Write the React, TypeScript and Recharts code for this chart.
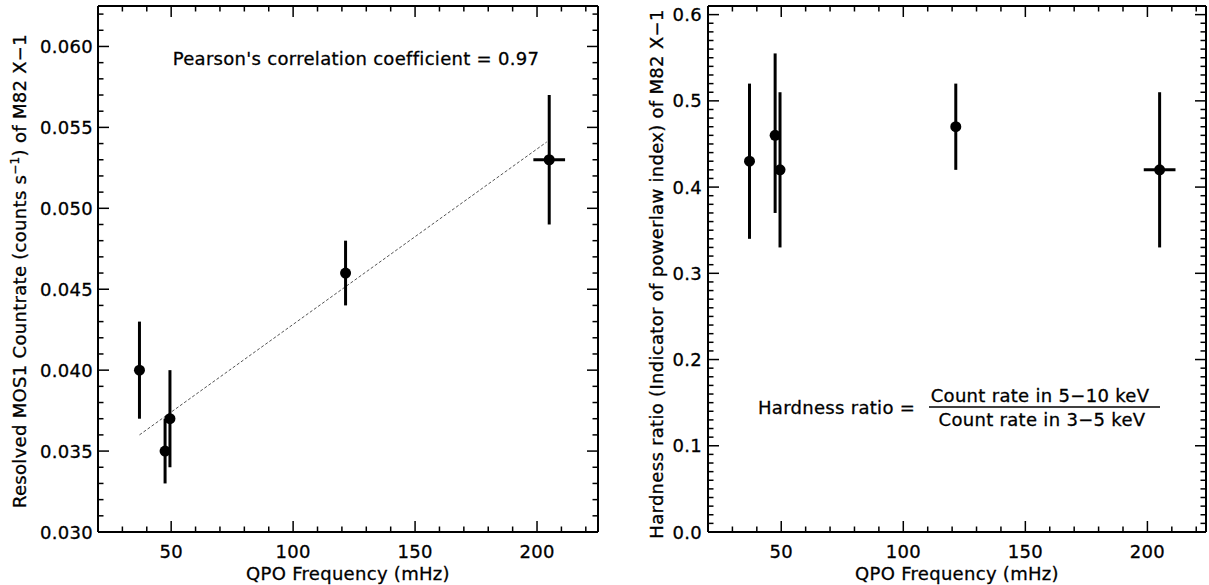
import React from 'react';
import { ScatterChart, Scatter, XAxis, YAxis, ErrorBar, ReferenceLine } from 'recharts';

// QPO frequencies (mHz) shared by both panels; last point has a frequency range
const qpoFreq = [37, 47.5, 49.5, 121.5, 205];
const qpoFreqLow = [37, 47.5, 49.5, 121.5, 198.5];
const qpoFreqHigh = [37, 47.5, 49.5, 121.5, 211.5];

// left panel: resolved MOS1 count rate
const countRate = [0.04, 0.035, 0.037, 0.046, 0.053];
const countRateLow = [0.037, 0.033, 0.034, 0.044, 0.049];
const countRateHigh = [0.043, 0.037, 0.04, 0.048, 0.057];

// linear fit drawn on the left panel
const fitFreq = [37, 204];
const fitRate = [0.036, 0.0541];

// right panel: hardness ratio
const hardness = [0.43, 0.46, 0.42, 0.47, 0.42];
const hardnessLow = [0.34, 0.37, 0.33, 0.42, 0.33];
const hardnessHigh = [0.52, 0.555, 0.51, 0.52, 0.51];

const freqTicks = [50, 100, 150, 200];
const countRateTicks = [0.03, 0.035, 0.04, 0.045, 0.05, 0.055, 0.06];
const hardnessTicks = [0.0, 0.1, 0.2, 0.3, 0.4, 0.5, 0.6];

const FONT = '"DejaVu Sans", sans-serif';
const FS = 18;

// minor tick positions between start and end
const steps = (start: number, end: number, step: number) => {
  const out: number[] = [];
  const n = Math.round((end - start) / step);
  for (let i = 0; i <= n; i++) out.push(Number((start + i * step).toFixed(6)));
  return out;
};

const freqMinor = steps(20, 220, 10);
const countRateMinor = steps(0.03, 0.062, 0.001);
const hardnessMinor = steps(0, 0.61, 0.01);

const isMajor = (majors: number[], v: number) => majors.some((m) => Math.abs(m - v) < 1e-9);

const labelStyle = {
  fontSize: FS,
  fontFamily: FONT,
  fill: '#000',
  stroke: '#000',
  strokeWidth: 0.3,
  letterSpacing: 0.3,
};

// ticks point into the plot box, labels only on majors
const makeTick = (side: string, majors: number[], fmt?: (v: number) => string, gap = 5) => (props: any) => {
  const { x, y, payload } = props;
  const v = payload.value;
  const major = isMajor(majors, v);
  const len = major ? 11 : 5.5;
  let line;
  if (side === 'bottom') line = <line x1={x} x2={x} y1={y} y2={y - len} />;
  else if (side === 'top') line = <line x1={x} x2={x} y1={y} y2={y + len} />;
  else if (side === 'left') line = <line x1={x} x2={x + len} y1={y} y2={y} />;
  else line = <line x1={x} x2={x - len} y1={y} y2={y} />;
  return (
    <g>
      <g stroke="#000" strokeWidth={1.5}>{line}</g>
      {major && fmt && side === 'bottom' && (
        <text x={x} y={y + 26} textAnchor="middle" {...labelStyle}>
          {fmt(v)}
        </text>
      )}
      {major && fmt && side === 'left' && (
        <text x={x - gap} y={y + 6.5} textAnchor="end" {...labelStyle}>
          {fmt(v)}
        </text>
      )}
    </g>
  );
};

const dot = (p: any) => <circle cx={p.cx} cy={p.cy} r={5.5} fill="#000" />;

const buildRows = (vals: number[], lows: number[], highs: number[]) =>
  qpoFreq.map((f, i) => ({
    x: f,
    y: vals[i],
    yErr: [vals[i] - lows[i], highs[i] - vals[i]],
    xErr: [f - qpoFreqLow[i], qpoFreqHigh[i] - f],
  }));

const countRows = buildRows(countRate, countRateLow, countRateHigh);
const hardRows = buildRows(hardness, hardnessLow, hardnessHigh);

const axisLine = { stroke: '#000', strokeWidth: 2 };

interface PanelProps {
  rows: any[];
  xDomain: number[];
  yDomain: number[];
  yMajors: number[];
  yMinor: number[];
  yFmt: (v: number) => string;
  yWidth: number;
  marginRight: number;
  labelGap: number;
  children?: React.ReactNode;
}

const Panel = ({ rows, xDomain, yDomain, yMajors, yMinor, yFmt, yWidth, marginRight, labelGap, children }: PanelProps) => (
  <ScatterChart width={600} height={585} margin={{ top: 5, right: marginRight, bottom: 0, left: 0 }}>
    <XAxis
      type="number"
      dataKey="x"
      domain={xDomain}
      allowDataOverflow
      ticks={freqMinor}
      interval={0}
      height={53}
      tickSize={0}
      tickMargin={0}
      axisLine={axisLine}
      tick={makeTick('bottom', freqTicks, (v) => String(v))}
    />
    <XAxis
      xAxisId="top"
      orientation="top"
      type="number"
      dataKey="x"
      domain={xDomain}
      allowDataOverflow
      ticks={freqMinor}
      interval={0}
      height={1}
      tickSize={0}
      tickMargin={0}
      axisLine={axisLine}
      tick={makeTick('top', freqTicks)}
    />
    <YAxis
      type="number"
      dataKey="y"
      domain={yDomain}
      allowDataOverflow
      ticks={yMinor}
      interval={0}
      width={yWidth}
      tickSize={0}
      tickMargin={0}
      axisLine={axisLine}
      tick={makeTick('left', yMajors, yFmt, labelGap)}
    />
    <YAxis
      yAxisId="right"
      orientation="right"
      type="number"
      dataKey="y"
      domain={yDomain}
      allowDataOverflow
      ticks={yMinor}
      interval={0}
      width={1}
      tickSize={0}
      tickMargin={0}
      axisLine={axisLine}
      tick={makeTick('right', yMajors)}
    />
    {children}
    <Scatter data={rows} shape={dot} isAnimationActive={false}>
      <ErrorBar dataKey="yErr" direction="y" width={0} stroke="#000" strokeWidth={3} isAnimationActive={false} />
      <ErrorBar dataKey="xErr" direction="x" width={0} stroke="#000" strokeWidth={3} isAnimationActive={false} />
    </Scatter>
  </ScatterChart>
);

const txt = { ...labelStyle } as const;

export default function App() {
  return (
    <div style={{ position: 'absolute', left: 0, top: 0, width: 1209, height: 585, background: '#fff' }}>
      <div style={{ position: 'absolute', left: 0, top: 0 }}>
        <Panel
          rows={countRows}
          xDomain={[20, 225]}
          yDomain={[0.03, 0.0625]}
          yMajors={countRateTicks}
          yMinor={countRateMinor}
          yFmt={(v) => v.toFixed(3)}
          yWidth={98}
          marginRight={1}
          labelGap={5}
        >
          <ReferenceLine
            segment={[
              { x: fitFreq[0], y: fitRate[0] },
              { x: fitFreq[1], y: fitRate[1] },
            ]}
            stroke="#555"
            strokeWidth={1}
            strokeDasharray="3 2"
            ifOverflow="visible"
          />
        </Panel>
      </div>
      <div style={{ position: 'absolute', left: 609, top: 0 }}>
        <Panel
          rows={hardRows}
          xDomain={[20, 224]}
          yDomain={[0, 0.61]}
          yMajors={hardnessTicks}
          yMinor={hardnessMinor}
          yFmt={(v) => v.toFixed(1)}
          yWidth={99}
          marginRight={2}
          labelGap={6}
        />
      </div>
      <svg width={1209} height={585} style={{ position: 'absolute', left: 0, top: 0, pointerEvents: 'none' }}>
        <text {...txt} x={356} y={65} textAnchor="middle">
          Pearson's correlation coefficient = 0.97
        </text>
        <text {...txt} x={348} y={580} textAnchor="middle">QPO Frequency (mHz)</text>
        <text {...txt} x={957} y={580} textAnchor="middle">QPO Frequency (mHz)</text>
        <text {...txt} x={26} y={271} textAnchor="middle" transform="rotate(-90 26 271)">
          Resolved MOS1 Countrate (counts s
          <tspan fontSize={12} dy={-7}>−1</tspan>
          <tspan dy={7}>) of M82 X−1</tspan>
        </text>
        <text {...txt} x={662.5} y={274} textAnchor="middle" transform="rotate(-90 662.5 274)">
          Hardness ratio (Indicator of powerlaw index) of M82 X−1
        </text>
        <text {...txt} x={758} y={414}>Hardness ratio =</text>
        <text {...txt} x={1040} y={402} textAnchor="middle">Count rate in 5−10 keV</text>
        <line x1={929} x2={1160} y1={407} y2={407} stroke="#000" strokeWidth={1.5} />
        <text {...txt} x={1042} y={426} textAnchor="middle">Count rate in 3−5 keV</text>
      </svg>
    </div>
  );
}
